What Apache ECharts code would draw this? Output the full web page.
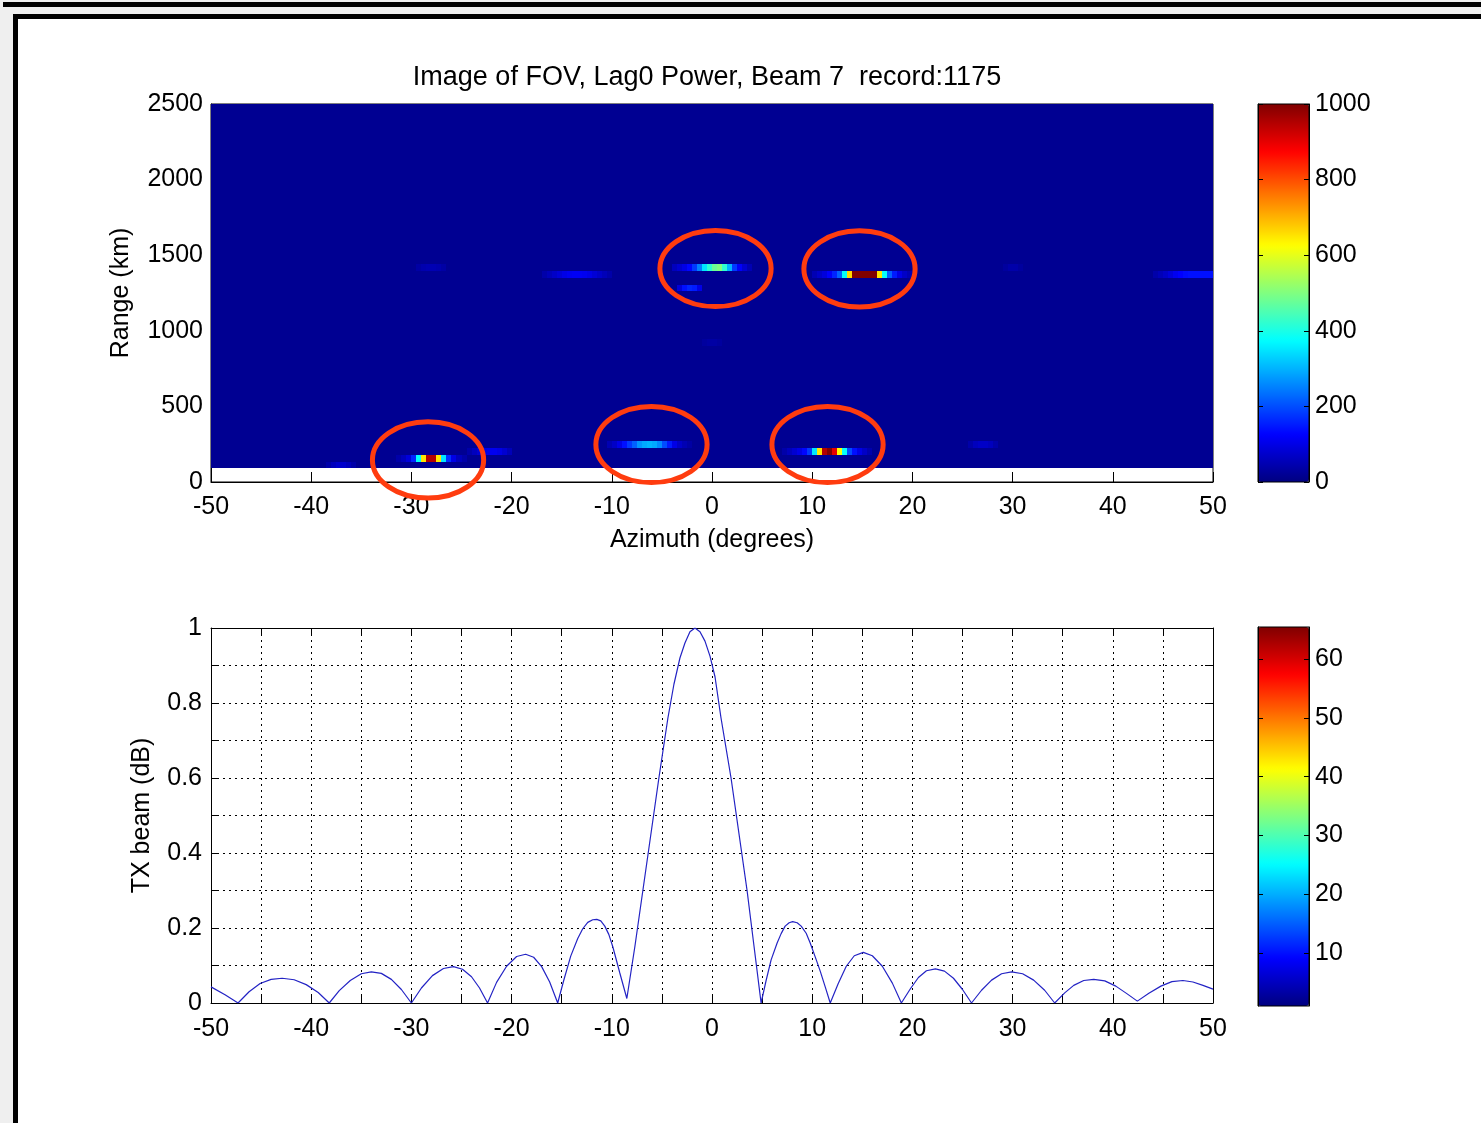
<!DOCTYPE html>
<html>
<head>
<meta charset="utf-8">
<script src="https://cdn.jsdelivr.net/npm/echarts@6/dist/echarts.min.js"></script>
<style>
html,body{margin:0;padding:0;background:#efefef;width:1481px;height:1123px;overflow:hidden;}
#topbar{position:absolute;left:3px;top:2px;width:1478px;height:5px;background:#000;}
#frame{position:absolute;left:13px;top:14px;width:1468px;height:1109px;background:#fff;border-left:5px solid #000;border-top:5px solid #000;box-sizing:border-box;}
#chart{position:absolute;left:0;top:0;width:1481px;height:1123px;}
</style>
</head>
<body>
<div id="topbar"></div>
<div id="frame"></div>
<div id="chart"></div>
<script>
// ---------------- data ----------------
const TITLE = 'Image of FOV, Lag0 Power, Beam 7  record:1175';

// Lag0 power image: range gates (km, centres) and azimuth bins
const GATE_FIRST = 112.5;     // centre of first range gate (km)
const GATE_SIZE = 45;         // range gate size (km)
const GATE_COUNT = 54;
const BG_SECTORS = [-45, -35, -25, -15, -5, 5, 15, 25, 35, 45]; // background sectors (10 deg)
const BG_POWER = 18;          // background power level

// echo rows: range centre, first azimuth bin centre, power per 0.5 deg bin
const AZ_STEP = 0.5;
const echoRange = [1417.5, 1282.5, 1372.5, 1372.5, 1417.5, 1372.5, 1417.5, 922.5,
                   157.5, 202.5, 112.5, 247.5, 202.5, 247.5];
const echoAzStart = [-3.75, -3.25, 10.25, -16.75, -29.25, 44.25, 29.25, -0.75,
                     -31.25, -24.25, -38.25, -10.25, 7.25, 25.75];
const echoPower = [
  [60, 80, 100, 130, 180, 250, 350, 420, 480, 500, 420, 300, 180, 120, 80, 50],
  [90, 140, 160, 150, 100],
  [50, 70, 90, 120, 160, 220, 380, 660, 1000, 1000, 1000, 1000, 1000, 650, 380, 220, 150, 100, 70, 50],
  [40, 55, 70, 85, 100, 110, 115, 115, 110, 100, 85, 70, 55, 40],
  [35, 45, 50, 50, 45, 35],
  [40, 55, 70, 90, 110, 125, 135, 140, 140, 140, 140, 140],
  [30, 40, 40, 30],
  [30, 35, 35, 30],
  [40, 60, 90, 160, 380, 650, 950, 950, 650, 350, 170, 100, 60, 40],
  [40, 60, 80, 100, 110, 110, 100, 80, 55],
  [40, 60, 75, 75, 60, 40],
  [50, 70, 100, 140, 180, 220, 270, 290, 300, 290, 260, 200, 150, 100, 70, 50, 35],
  [40, 60, 80, 100, 130, 180, 350, 650, 950, 1000, 900, 620, 380, 200, 140, 100, 70, 45],
  [40, 60, 70, 70, 60, 40]
];

// highlighted echoes (red ellipses): centre azimuth (deg) and range (km)
const markAz = [0.35, 14.72, -28.34, -6.04, 11.53];
const markRange = [1412, 1409, 146, 248, 248];
const MARK_RX = 5.55;   // deg
const MARK_RY = 252;    // km

// TX beam pattern
const beamAz = [-50, -48.6, -47.3, -46.2, -45.1, -44.0, -42.9, -41.7, -40.5, -39.3, -38.2,
  -37.2, -36.1, -35.0, -34.0, -33.0, -32.0, -31.0, -30.0,
  -29.0, -27.9, -26.8, -25.8, -24.9, -24.0, -23.2, -22.4,
  -21.5, -20.5, -19.5, -18.6, -17.8, -17.0, -16.2, -15.4,
  -14.8, -14.1, -13.4, -12.9, -12.4, -11.9, -11.5, -11.1, -10.7, -10.3, -9.9, -9.2, -8.5,
  -7.7, -6.9, -6.1, -5.3, -4.4, -3.8, -3.2, -2.7, -2.2, -1.7, -1.2, -0.7, -0.2, 0.3,
  0.9, 1.9, 2.7, 3.5, 4.2, 4.9,
  5.4, 5.9, 6.5, 6.9, 7.3, 7.7, 8.05, 8.5, 8.9, 9.4, 9.8, 10.3, 10.8, 11.3, 11.8,
  12.6, 13.4, 14.2, 15.1, 16.0, 17.0, 18.0, 18.9,
  19.8, 20.6, 21.4, 22.3, 23.2, 24.1, 25.0, 25.9,
  26.9, 27.9, 28.9, 29.9, 31.0, 32.1, 33.2, 34.2,
  35.2, 36.1, 37.1, 38.1, 39.2, 40.3, 41.4, 42.45,
  43.6, 44.8, 45.9, 47.0, 48.0, 49.0, 50];
const beamGain = [0.043, 0.022, 0, 0.03, 0.052, 0.063, 0.066, 0.062, 0.049, 0.028, 0,
  0.033, 0.06, 0.078, 0.083, 0.079, 0.063, 0.036, 0,
  0.04, 0.073, 0.092, 0.097, 0.09, 0.07, 0.04, 0,
  0.055, 0.098, 0.124, 0.13, 0.122, 0.097, 0.056, 0,
  0.06, 0.125, 0.172, 0.198, 0.215, 0.222, 0.223, 0.219, 0.205, 0.183, 0.15, 0.08, 0.012,
  0.15, 0.3, 0.45, 0.6, 0.76, 0.85, 0.92, 0.96, 0.99, 1.0, 0.99, 0.965, 0.925, 0.87,
  0.76, 0.6, 0.45, 0.3, 0.15, 0,
  0.06, 0.115, 0.16, 0.185, 0.205, 0.214, 0.217, 0.214, 0.205, 0.186, 0.16, 0.123, 0.085, 0.043, 0,
  0.052, 0.098, 0.126, 0.135, 0.126, 0.098, 0.053, 0,
  0.038, 0.068, 0.086, 0.091, 0.085, 0.066, 0.036, 0,
  0.034, 0.061, 0.078, 0.083, 0.078, 0.061, 0.034, 0,
  0.027, 0.047, 0.06, 0.063, 0.059, 0.045, 0.025, 0.005,
  0.026, 0.045, 0.057, 0.06, 0.056, 0.047, 0.037];

// colorbar ranges / ticks
const powerRange = [0, 1000];
const dbRange = [0.94, 65.5];
const dbTicks = [10, 20, 30, 40, 50, 60];

// ---------------- build ----------------
const FONT = '"Liberation Sans", Arial, Helvetica, sans-serif';
const JET = ['#000080', '#0000ff', '#0080ff', '#00ffff', '#80ff80', '#ffff00', '#ff8000', '#ff0000', '#800000'];

const bgData = [];
for (let g = 0; g < GATE_COUNT; g++) {
  for (const az of BG_SECTORS) bgData.push([az, GATE_FIRST + g * GATE_SIZE, BG_POWER]);
}
const echoData = [];
echoPower.forEach((row, i) => {
  row.forEach((v, j) => echoData.push([echoAzStart[i] + j * AZ_STEP, echoRange[i], v]));
});
const markData = markAz.map((a, i) => [a, markRange[i]]);
const beamData = beamAz.map((a, i) => [a, beamGain[i]]);

function cellRenderer(w, h) {
  return function (params, api) {
    const az = api.value(0), r = api.value(1);
    const a = api.coord([az - w / 2, r + h / 2]);
    const b = api.coord([az + w / 2, r - h / 2]);
    const x0 = Math.round(a[0]), y0 = Math.round(a[1]);
    const x1 = Math.round(b[0]), y1 = Math.round(b[1]);
    return {
      type: 'rect',
      shape: { x: x0, y: y0, width: x1 - x0, height: y1 - y0 },
      style: { fill: api.visual('color') }
    };
  };
}
function ringRenderer(params, api) {
  const c = api.coord([api.value(0), api.value(1)]);
  const s = api.size([MARK_RX, MARK_RY]);
  return {
    type: 'ellipse',
    shape: { cx: c[0], cy: c[1], rx: s[0], ry: s[1] },
    style: { fill: 'none', stroke: '#ff3c0f', lineWidth: 5 }
  };
}

const plain = v => String(Math.round(v * 1000) / 1000);
const txt = { color: '#000', fontFamily: FONT, fontSize: 25 };
const ytxt = Object.assign({ padding: [4, 0, 0, 0] }, txt);
const blackLine = { show: true, onZero: false, lineStyle: { color: '#000', width: 1 } };
const dotted = { show: true, lineStyle: { color: '#000', width: 1, type: [2, 4] } };
const tick = len => ({ inside: true, length: len, lineStyle: { color: '#000' } });

const chart = echarts.init(document.getElementById('chart'), null, { renderer: 'canvas' });
chart.setOption({
  animation: false,
  backgroundColor: 'transparent',
  textStyle: { fontFamily: FONT },
  graphic: [{
    type: 'text', x: 707, y: 78, z: 20,
    style: { text: TITLE, fontSize: 27, fontFamily: FONT, fill: '#000', align: 'center', verticalAlign: 'middle' }
  }],
  grid: [
    { left: 211, top: 104, width: 1002, height: 378, show: true, borderColor: '#000', borderWidth: 1, backgroundColor: 'transparent' },
    { left: 211, top: 628, width: 1002, height: 375 },
    { left: 1258, top: 104, width: 51, height: 378, show: true, borderColor: '#000', borderWidth: 1, backgroundColor: 'transparent', z: 10 },
    { left: 1258, top: 627, width: 51, height: 379, show: true, borderColor: '#000', borderWidth: 1, backgroundColor: 'transparent', z: 10 }
  ],
  xAxis: [
    { gridIndex: 0, type: 'value', min: -50, max: 50, interval: 10, position: 'bottom',
      axisLine: blackLine, axisTick: tick(10),
      axisLabel: Object.assign({ margin: 13, formatter: plain }, txt), splitLine: { show: false },
      name: 'Azimuth (degrees)', nameLocation: 'middle', nameGap: 46, nameTextStyle: txt },
    { gridIndex: 1, type: 'value', min: -50, max: 50, interval: 5, position: 'bottom',
      axisLine: blackLine, axisTick: tick(8),
      axisLabel: Object.assign({ margin: 14, formatter: v => (Math.round(v) % 10 === 0 ? String(Math.round(v)) : '') }, txt),
      splitLine: dotted },
    { gridIndex: 1, type: 'value', min: -50, max: 50, interval: 5, position: 'top',
      axisLine: blackLine, axisTick: tick(8),
      axisLabel: { show: false }, splitLine: { show: false } },
    { gridIndex: 2, type: 'value', min: 0, max: 1, show: false },
    { gridIndex: 3, type: 'value', min: 0, max: 1, show: false }
  ],
  yAxis: [
    { gridIndex: 0, type: 'value', min: 0, max: 2500, interval: 500, position: 'left',
      axisLine: blackLine, axisTick: tick(10),
      axisLabel: Object.assign({ margin: 8, formatter: plain }, ytxt), splitLine: { show: false },
      name: 'Range (km)', nameLocation: 'middle', nameGap: 77, nameTextStyle: txt },
    { gridIndex: 1, type: 'value', min: 0, max: 1, interval: 0.1, position: 'left',
      axisLine: blackLine, axisTick: tick(8),
      axisLabel: Object.assign({ margin: 9, formatter: v => { const k = Math.round(v * 10); return k % 2 === 0 ? String(k / 10) : ''; } }, ytxt),
      splitLine: dotted,
      name: 'TX beam (dB)', nameLocation: 'middle', nameGap: 56, nameTextStyle: txt },
    { gridIndex: 1, type: 'value', min: 0, max: 1, interval: 0.1, position: 'right',
      axisLine: blackLine, axisTick: tick(8),
      axisLabel: { show: false }, splitLine: { show: false } },
    { gridIndex: 2, type: 'value', min: powerRange[0], max: powerRange[1], interval: 200, position: 'right', z: 11,
      axisLine: blackLine, axisTick: tick(5),
      axisLabel: Object.assign({ margin: 6, formatter: plain }, ytxt), splitLine: { show: false } },
    { gridIndex: 2, type: 'value', min: powerRange[0], max: powerRange[1], interval: 200, position: 'left', z: 11,
      axisLine: blackLine, axisTick: tick(5),
      axisLabel: { show: false }, splitLine: { show: false } },
    { gridIndex: 3, type: 'value', min: dbRange[0], max: dbRange[1], position: 'right', z: 11,
      axisLine: blackLine, axisTick: Object.assign({ customValues: dbTicks }, tick(5)),
      axisLabel: Object.assign({ margin: 6, customValues: dbTicks, formatter: plain }, ytxt), splitLine: { show: false } },
    { gridIndex: 3, type: 'value', min: dbRange[0], max: dbRange[1], position: 'left', z: 11,
      axisLine: blackLine, axisTick: Object.assign({ customValues: dbTicks }, tick(5)),
      axisLabel: { show: false }, splitLine: { show: false } }
  ],
  visualMap: [
    { type: 'continuous', min: powerRange[0], max: powerRange[1], seriesIndex: [0, 1], dimension: 2,
      inRange: { color: JET }, orient: 'vertical', left: 1258, top: 104, itemWidth: 51, itemHeight: 378,
      calculable: false, padding: 0, hoverLink: false, z: 4 },
    { type: 'continuous', min: dbRange[0], max: dbRange[1], seriesIndex: [],
      inRange: { color: JET }, orient: 'vertical', left: 1258, top: 627, itemWidth: 51, itemHeight: 379,
      calculable: false, padding: 0, hoverLink: false, z: 4 }
  ],
  series: [
    { type: 'custom', name: 'background', xAxisIndex: 0, yAxisIndex: 0, clip: true, silent: true,
      encode: { x: 0, y: 1 }, data: bgData, renderItem: cellRenderer(10, GATE_SIZE) },
    { type: 'custom', name: 'Lag0 power', xAxisIndex: 0, yAxisIndex: 0, clip: true, silent: true,
      encode: { x: 0, y: 1 }, data: echoData, renderItem: cellRenderer(AZ_STEP, GATE_SIZE) },
    { type: 'custom', name: 'marks', xAxisIndex: 0, yAxisIndex: 0, clip: false, silent: true, z: 10,
      encode: { x: 0, y: 1 }, data: markData, renderItem: ringRenderer },
    { type: 'line', name: 'TX beam', xAxisIndex: 1, yAxisIndex: 1, data: beamData, showSymbol: false,
      symbol: 'none', silent: true, lineStyle: { color: '#2323c4', width: 1.2 } }
  ]
});
</script>
</body>
</html>
